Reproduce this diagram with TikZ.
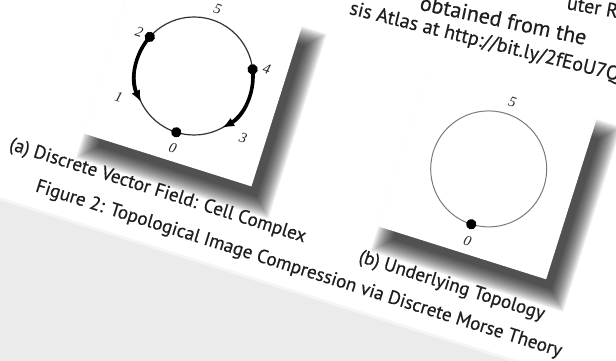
\documentclass[tikz,border=0pt]{standalone}
\usepackage{fontspec}
\setmainfont{Liberation Serif}
\newfontfamily\captfont[FakeBold=0.45]{PT Sans}
\usetikzlibrary{arrows.meta}
\definecolor{floorgray}{HTML}{EBEBEB}
\definecolor{inkgray}{HTML}{1E1E1E}
\definecolor{ringgray}{HTML}{7A7A7A}

\tikzset{
  capt/.style={font=\captfont\fontsize{19}{22}\selectfont, text=inkgray, inner sep=0pt},
  topline/.style={font=\captfont\fontsize{20}{23}\selectfont, text=inkgray, inner sep=0pt},
  numlabel/.style={font=\itshape\fontsize{14.5}{16}\selectfont, text=black!85, inner sep=0pt},
  ring/.style={line width=1.2pt, draw=black!80},
  fadering/.style={line width=1pt, draw=ringgray},
  vecarrow/.style={line width=3.6pt, -{Latex[length=12pt,width=9.5pt]}},
  vertexdot/.style={fill=black},
  boxshade/.style={fill=black, opacity=0.054},
}

\begin{document}
\begin{tikzpicture}[x=1pt,y=1pt]
  \useasboundingbox (0,0) rectangle (616,361);
  \clip (0,0) rectangle (616,361);
  \fill[white] (0,0) rectangle (616,361);

  % the tilted page
  \begin{scope}[shift={(194,285)}, rotate=-17.5, transform shape]
    \fill[floorgray!50] (-400,-174) rectangle (800,-178);
    \fill[floorgray] (-400,-177) rectangle (800,-600);

    % panel (a): cell complex
    \begin{scope}
      \foreach \e in {0,...,18}
        \fill[boxshade] ({-70-\e},{-96-\e}) rectangle ({96+\e},{62+\e});
      \fill[white] (-88,-88) rectangle (88,88);
      \coordinate (a0) at (270:59);
      \coordinate (a2) at (156:59);
      \coordinate (a4) at (24:59);
      \draw[ring] (0,0) circle[radius=59];
      \draw[vecarrow] (a2) arc[start angle=156, end angle=224, radius=59];
      \draw[vecarrow] (a4) arc[start angle=24, end angle=-44, radius=59];
      \foreach \v in {a0,a2,a4}
        \fill[vertexdot] (\v) circle[radius=5.2];
      \node[numlabel] (a-l0) at (271:75) {0};
      \node[numlabel] (a-l1) at (213:78) {1};
      \node[numlabel] (a-l2) at (159:70) {2};
      \node[numlabel] (a-l3) at (326:79) {3};
      \node[numlabel] (a-l4) at (23:73) {4};
      \node[numlabel] (a-l5) at (88:71) {5};
      \node[capt] (cap-a) at (0,-121) {(a) Discrete Vector Field: Cell Complex};
    \end{scope}

    % panel (b): underlying topology
    \begin{scope}[shift={(309,0)}]
      \foreach \e in {0,...,18}
        \fill[boxshade] ({-70-\e},{-96-\e}) rectangle ({96+\e},{62+\e});
      \fill[white] (-88,-88) rectangle (88,88);
      \coordinate (b0) at (270:58);
      \draw[fadering] (0,0) circle[radius=58];
      \fill[vertexdot] (b0) circle[radius=5.2];
      \node[numlabel] (b-l0) at (271:75) {0};
      \node[numlabel] (b-l5) at (88:71) {5};
      \node[capt] (cap-b) at (0,-123) {(b) Underlying Topology};
    \end{scope}

    \node[capt] (fig-cap) at (158,-153)
      {Figure 2: Topological Image Compression via Discrete Morse Theory};
  \end{scope}

  % text lines above the figure
  \node[topline, anchor=base west, rotate=-10] (line-1) at (566,352) {uter Ris};
  \node[topline, font=\captfont\fontsize{22}{24}\selectfont, anchor=base east, rotate=-12]
    (line-2) at (585,316) {obtained from the};
  \node[topline, anchor=base east, rotate=-14] (line-3) at (618,280) {sis Atlas at http://bit.ly/2fEoU7Q};
\end{tikzpicture}
\end{document}
